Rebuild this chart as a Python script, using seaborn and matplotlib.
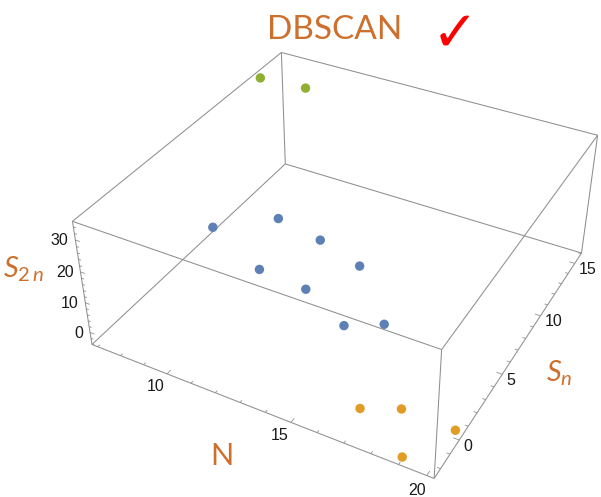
import numpy as np
import matplotlib
matplotlib.use("Agg")
import matplotlib.pyplot as plt
import seaborn as sns

# Oxygen isotopic chain: neutron number and separation energies (MeV)
neutrons = [7, 8, 9, 10, 11, 12, 13, 14, 15, 16, 17, 18, 19, 20]
s_n = [13.2, 15.7, 3.9, 7.9, 3.75, 7.5, 3.6, 6.65, 2.45, 4.0, -1.1, 0.4, -2.3, 0.35]
s_2n = [34.9, 26.9, 17.5, 9.6, 9.2, 8.6, 8.6, 8.0, 6.6, 3.9, 0.25, -3.3, -3.4, -3.4]
cluster = [3, 3, 1, 1, 1, 1, 1, 1, 1, 1, 2, 2, 2, 2]

n_major = [10, 15, 20]
sn_major = [0, 5, 10, 15]
s2n_major = [0, 10, 20, 30]

title = "DBSCAN"

sns.set_theme(style="white")
palette = sns.color_palette(["#5E81B5", "#E09C24", "#8FB032"])
label_color = "#CD6F2D"
edge_color = "#8f8f8f"
tick_text_color = "#1a1a1a"

plt.rcParams["mathtext.fontset"] = "custom"
plt.rcParams["mathtext.it"] = "Lato:italic"
plt.rcParams["mathtext.rm"] = "Lato"
plt.rcParams["mathtext.sf"] = "Lato"

W_PX, H_PX = 601, 497
fig = plt.figure(figsize=(W_PX / 100, H_PX / 100), dpi=100)
fig.patch.set_facecolor("white")


def padded(vals, frac=0.02):
    lo, hi = min(vals), max(vals)
    d = (hi - lo) * frac
    return lo - d, hi + d


x0, x1 = padded(neutrons)
y0, y1 = padded(s_n)
z0, z1 = padded(s_2n)
xs, ys, zs = x1 - x0, y1 - y0, z1 - z0

ax = fig.add_axes([0, 0, 1, 1], projection="3d", computed_zorder=False)
try:
    ax.set_xlim(x0, x1, view_margin=0)
    ax.set_ylim(y0, y1, view_margin=0)
    ax.set_zlim(z0, z1, view_margin=0)
except TypeError:
    ax.set_xlim(x0, x1)
    ax.set_ylim(y0, y1)
    ax.set_zlim(z0, z1)

# camera: view point (1.3, -2.4, 2) in box units, box ratios 1:1:0.4
viewpoint = np.array([1.3, -2.4, 2.0])
elev = np.degrees(np.arctan2(viewpoint[2], np.hypot(viewpoint[0], viewpoint[1])))
azim = np.degrees(np.arctan2(viewpoint[1], viewpoint[0]))
ax.view_init(elev=elev, azim=azim, roll=0)
ax.set_box_aspect((1, 1, 0.4))
side = ax._box_aspect[0]
focal = np.linalg.norm(viewpoint) * side / ax._dist
ax.set_proj_type("persp", focal_length=focal)
ax.set_axis_off()
ax.patch.set_alpha(0)

# framing of the projected box on the canvas
scale = 1262.0 / focal
cx, cy = 348.1, 238.5
vx0, vx1 = ax.viewLim.intervalx
vy0, vy1 = ax.viewLim.intervaly
left = cx + scale * vx0
top = cy - scale * vy1
w = scale * (vx1 - vx0)
h = scale * (vy1 - vy0)
ax.set_position([left / W_PX, 1 - (top + h) / H_PX, w / W_PX, h / H_PX])

proj = ax.get_proj()


def label3d(x, y, z, s, **kw):
    """Place a flat text at the screen position of a 3D point."""
    v = proj @ np.array([x, y, z, 1.0])
    fig.text(v[0] / v[3], v[1] / v[3], s, transform=ax.transData, **kw)


def seg(p, q, lw=0.75):
    ax.plot([p[0], q[0]], [p[1], q[1]], [p[2], q[2]], color=edge_color,
            lw=lw, clip_on=False, solid_capstyle="butt", zorder=1)


# bounding box
for a in (y0, y1):
    for b in (z0, z1):
        seg((x0, a, b), (x1, a, b))
for a in (x0, x1):
    for b in (z0, z1):
        seg((a, y0, b), (a, y1, b))
for a in (x0, x1):
    for b in (y0, y1):
        seg((a, b, z0), (a, b, z1))

tick_kw = dict(color=tick_text_color, fontsize=11.5, family="Liberation Sans")

# N axis: front bottom edge
for n in range(int(np.ceil(x0)), int(np.floor(x1)) + 1):
    L = (0.016 if n in n_major else 0.009) * ys
    seg((n, y0, z0), (n, y0 + L, z0), lw=0.6)
for n in n_major:
    label3d(n, y0 - 0.052 * ys, z0, str(n), ha="center", va="center", **tick_kw)

# Sn axis: right bottom edge
for s in range(int(np.ceil(y0)), int(np.floor(y1)) + 1):
    L = (0.016 if s in sn_major else 0.009) * xs
    seg((x1, s, z0), (x1 - L, s, z0), lw=0.6)
for s in sn_major:
    label3d(x1 + 0.013 * xs, s, z0 - 0.04 * zs, str(s), ha="left", va="center",
            **tick_kw)

# S2n axis: front left vertical edge
for z in range(int(np.ceil(z0 / 2)) * 2, int(np.floor(z1)) + 1, 2):
    L = (0.014 if z in s2n_major else 0.008) * xs
    seg((x0, y0, z), (x0 + L, y0, z), lw=0.6)
for z in s2n_major:
    label3d(x0 - 0.0135 * xs, y0 - 0.0105 * ys, z, str(z), ha="right",
            va="center", **tick_kw)

# data points coloured by cluster
ax.scatter(neutrons, s_n, s_2n, c=[palette[c - 1] for c in cluster], s=46,
           depthshade=False, edgecolors="none", zorder=5, clip_on=False)


def fx(px):
    return px / W_PX


def fy(py):
    return 1 - py / H_PX


fig.text(fx(221.5), fy(456), "N", ha="center", va="center", fontsize=22,
         family="Lato", color=label_color)
fig.text(fx(3), fy(278), r"$S_{2\,n}$", ha="left", va="baseline", fontsize=21,
         color=label_color)
fig.text(fx(546.5), fy(382), r"$S_n$", ha="left", va="baseline", fontsize=21,
         color=label_color)
fig.text(fx(334.5), fy(39.3), title, ha="center", va="baseline", fontsize=24,
         family="Lato", color=label_color)
fig.text(fx(455), fy(36), "\u2713", ha="center", va="center", fontsize=40,
         fontweight="bold", family="DejaVu Sans", color="#FF0000")

fig.savefig("out.png", dpi=100, facecolor="white")
